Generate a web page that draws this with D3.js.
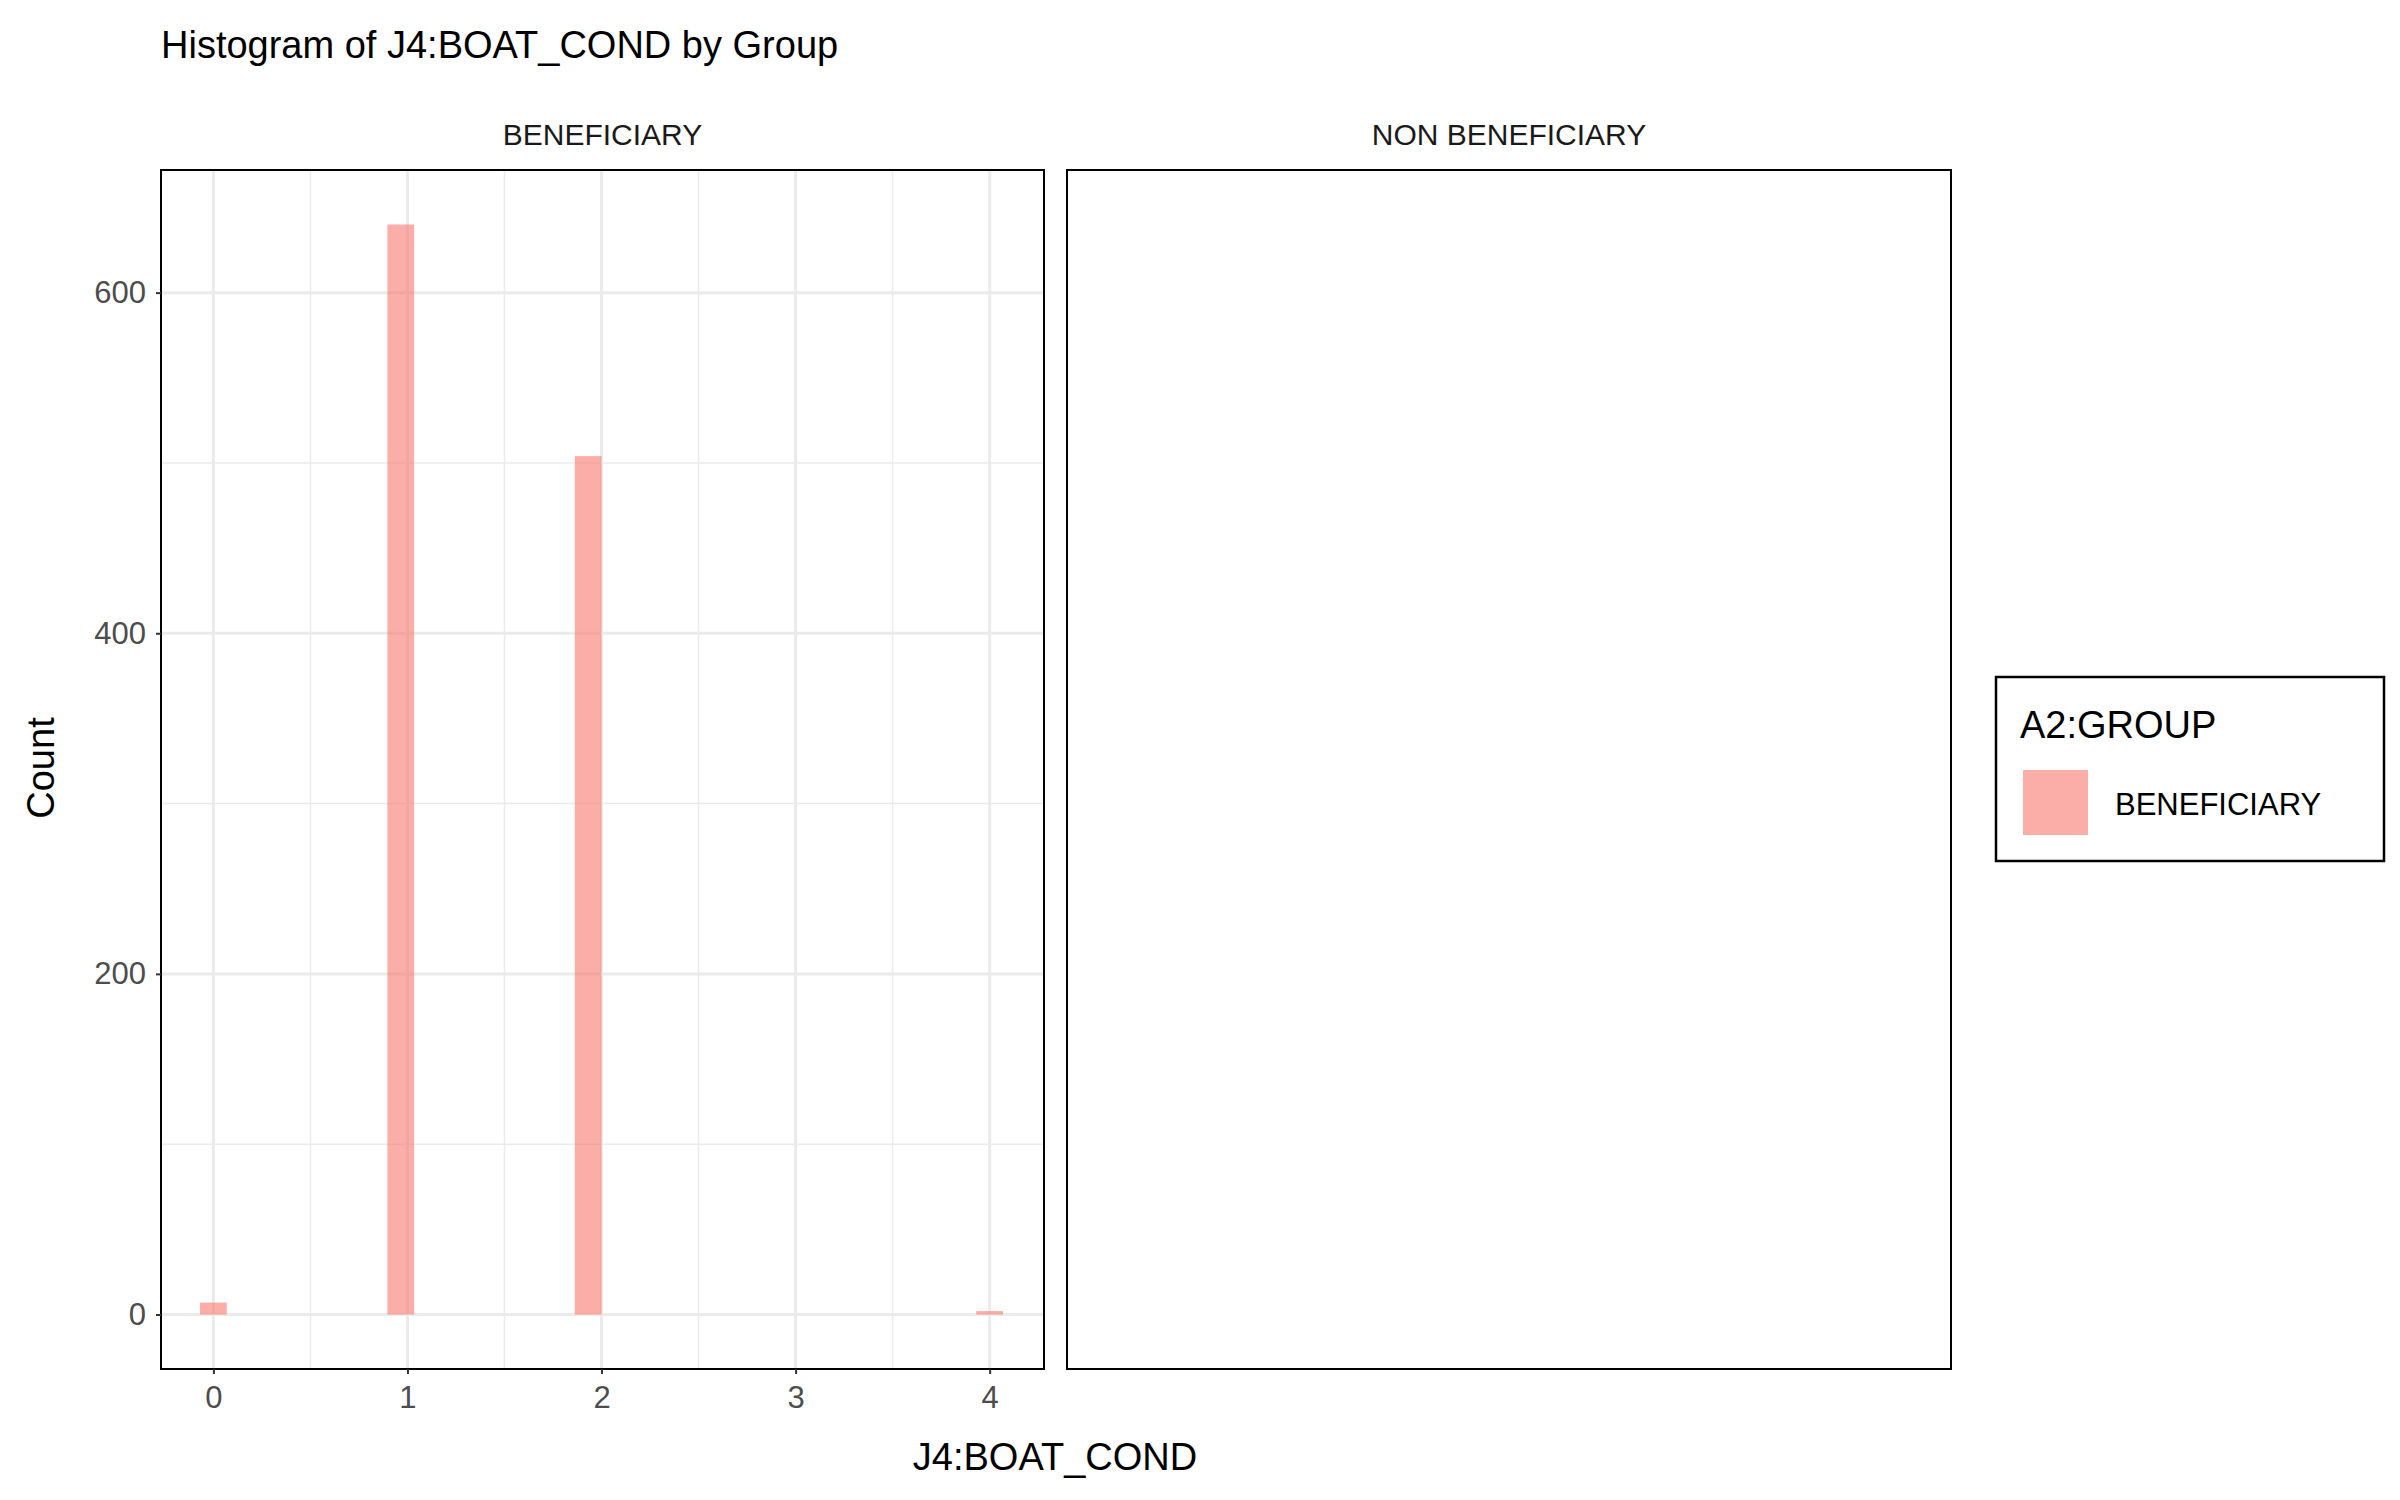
<!DOCTYPE html>
<html><head><meta charset="utf-8">
<script src="https://cdn.jsdelivr.net/npm/d3@7"></script>
<style>body{margin:0;background:#fff}text{font-family:Arial,"Liberation Sans",sans-serif}</style>
</head><body>
<svg id="c" width="2400" height="1500"></svg>
<script>
// histogram bins (centers, width 4/29) and counts
var binWidth = 4 / 29;
var binCenters = [0, 7 * binWidth, 14 * binWidth, 4];
var binCounts = [7, 640, 504, 2];
var panels = ["BENEFICIARY", "NON BENEFICIARY"];
var xTicks = [0, 1, 2, 3, 4];
var yTicks = [0, 200, 400, 600];

var svg = d3.select("#c");
var panelTop = 170, panelBottom = 1369;
var panelX = [[161, 1044], [1067, 1951]];
var x = d3.scaleLinear().domain([-0.27, 4.28]).range(panelX[0]);
var y = d3.scaleLinear().domain([-32, 672]).range([panelBottom, panelTop]);

svg.append("text").attr("x", 161).attr("y", 58).attr("font-size", 38).text("Histogram of J4:BOAT_COND by Group");

// grid in panel 1
var g = svg.append("g");
d3.range(0, 700, 100).forEach(function (v) {
  g.append("line").attr("x1", panelX[0][0]).attr("x2", panelX[0][1]).attr("y1", y(v)).attr("y2", y(v))
    .attr("stroke", "#EBEBEB").attr("stroke-width", v % 200 === 0 ? 3 : 1.5);
});
d3.range(0, 4.5, 0.5).forEach(function (v) {
  g.append("line").attr("x1", x(v)).attr("x2", x(v)).attr("y1", panelTop).attr("y2", panelBottom)
    .attr("stroke", "#EBEBEB").attr("stroke-width", v % 1 === 0 ? 3 : 1.5);
});

g.selectAll("rect.bar").data(binCenters).enter().append("rect")
  .attr("x", function (d) { return x(d - binWidth / 2); })
  .attr("width", function () { return x(binWidth) - x(0); })
  .attr("y", function (d, i) { return y(binCounts[i]); })
  .attr("height", function (d, i) { return y(0) - y(binCounts[i]); })
  .attr("fill", "#F8766D").attr("opacity", 0.6);

panels.forEach(function (p, i) {
  svg.append("rect").attr("x", panelX[i][0]).attr("y", panelTop).attr("width", panelX[i][1] - panelX[i][0])
    .attr("height", panelBottom - panelTop).attr("fill", "none").attr("stroke", "#000").attr("stroke-width", 2);
  svg.append("text").attr("x", (panelX[i][0] + panelX[i][1]) / 2).attr("y", 145).attr("text-anchor", "middle")
    .attr("font-size", 30).attr("fill", "#1A1A1A").text(p);
});

var yAxis = svg.append("g").attr("transform", "translate(161,0)")
  .call(d3.axisLeft(y).tickValues(yTicks).tickFormat(d3.format("d")).tickSize(5).tickPadding(10));
var xAxis = svg.append("g").attr("transform", "translate(0," + panelBottom + ")")
  .call(d3.axisBottom(x).tickValues(xTicks).tickFormat(d3.format("d")).tickSize(5).tickPadding(12));
[yAxis, xAxis].forEach(function (a) {
  a.select(".domain").remove();
  a.selectAll("line").attr("stroke", "#333").attr("stroke-width", 2);
  a.selectAll("text").attr("font-size", 31).attr("fill", "#4D4D4D").attr("font-family", "Arial, Liberation Sans, sans-serif");
});

svg.append("text").attr("x", 1055).attr("y", 1470).attr("text-anchor", "middle").attr("font-size", 38).text("J4:BOAT_COND");
svg.append("text").attr("transform", "translate(54,768) rotate(-90)").attr("text-anchor", "middle").attr("font-size", 38).text("Count");

// legend
svg.append("rect").attr("x", 1996).attr("y", 677).attr("width", 388).attr("height", 184)
  .attr("fill", "none").attr("stroke", "#000").attr("stroke-width", 2.5);
svg.append("text").attr("x", 2020).attr("y", 738).attr("font-size", 38).text("A2:GROUP");
svg.append("rect").attr("x", 2023).attr("y", 770).attr("width", 65).attr("height", 65).attr("fill", "#F8766D").attr("opacity", 0.6);
svg.append("text").attr("x", 2115).attr("y", 815).attr("font-size", 31).text(panels[0]);
</script>
</body></html>
